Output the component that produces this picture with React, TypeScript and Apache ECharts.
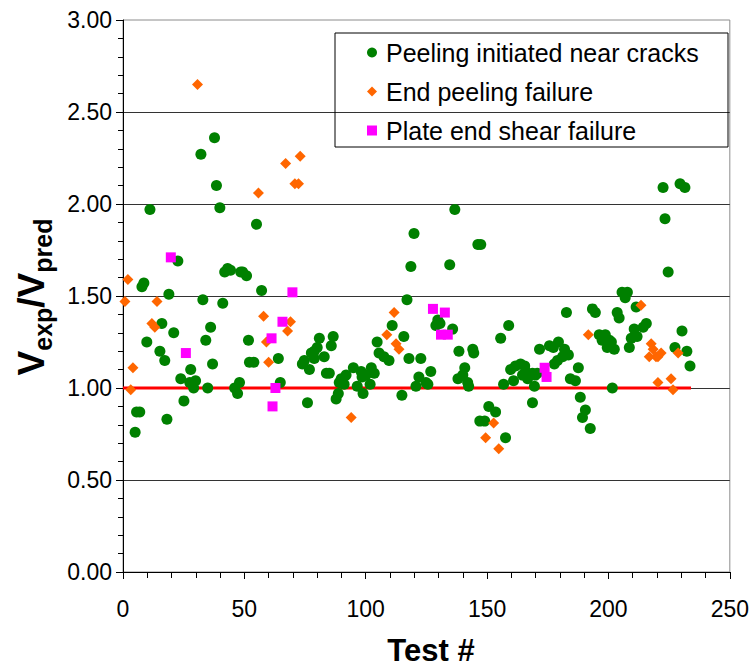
import React, { useEffect, useRef } from "react";
import * as echarts from "echarts";

// Test number vs. Vexp/Vpred, grouped by observed failure mode
const peelingNearCracks: [number, number][] = [
  [5.0, 0.76], [5.6, 0.87], [6.9, 0.87], [7.8, 1.55], [8.6, 1.57], [9.8, 1.25], [11.1, 1.97], [15.2, 1.2],
  [16.0, 1.35], [17.2, 1.15], [18.1, 0.83], [18.9, 1.51], [20.9, 1.3], [22.6, 1.69], [23.8, 1.05], [25.1, 0.93],
  [27.5, 1.03], [27.9, 1.1], [29.1, 1.0], [29.9, 1.04], [32.1, 2.27], [32.9, 1.48], [34.1, 1.26], [34.9, 1.0],
  [36.1, 1.33], [36.9, 1.13], [37.7, 2.36], [38.5, 2.1], [39.9, 1.98], [41.1, 1.46], [41.9, 1.63], [43.1, 1.65],
  [44.3, 1.64], [46.0, 1.0], [47.2, 0.97], [48.0, 1.03], [48.5, 1.63], [49.3, 1.63], [50.9, 1.61],
  [51.7, 1.26], [52.1, 1.14], [53.9, 1.14], [55.0, 1.89], [57.1, 1.53], [64.0, 1.16], [64.8, 1.03], [76.0, 0.92],
  [73.9, 1.13], [74.7, 1.15], [76.8, 1.1], [77.6, 1.19], [78.8, 1.2], [78.8, 1.16], [80.0, 1.22], [80.9, 1.27],
  [82.9, 1.17], [83.8, 1.08], [85.0, 1.08], [85.8, 1.23], [86.6, 1.28],
  [87.8, 0.94], [88.7, 0.97], [89.1, 1.03], [89.9, 1.05], [91.1, 1.02], [91.9, 1.07], [94.9, 1.11], [96.5, 1.01],
  [98.1, 1.09], [98.5, 1.06], [98.9, 0.97],
  [100.1, 1.07], [101.8, 1.02], [102.3, 1.11], [103.5, 1.08], [104.7, 1.25], [105.5, 1.19], [107.5, 1.17],
  [109.6, 1.15], [110.9, 1.34], [114.9, 0.96], [115.7, 1.28], [117.0, 1.48], [117.8, 1.16], [118.6, 1.66],
  [119.9, 1.84], [120.7, 1.01], [121.9, 1.06], [122.7, 1.16], [124.8, 1.03], [125.6, 1.02], [126.8, 1.09],
  [128.9, 1.34], [129.7, 1.37], [130.6, 1.35], [134.6, 1.67], [135.8, 1.32], [136.7, 1.97], [138.0, 1.05],
  [138.4, 1.2], [140.0, 1.07], [140.8, 1.11], [142.0, 1.03], [142.4, 1.01], [144.1, 1.21], [144.5, 1.19],
  [146.2, 1.78], [147.4, 1.78], [147.0, 0.82], [149.0, 0.82], [150.7, 0.9], [153.5, 0.87],
  [155.6, 1.27], [156.8, 1.02], [157.6, 0.73], [158.9, 1.34], [159.7, 1.1], [160.9, 1.04], [161.7, 1.12],
  [163.8, 1.13], [164.6, 1.07], [165.5, 1.12], [165.9, 1.09], [166.7, 1.05], [168.7, 0.92], [168.7, 1.08],
  [169.5, 1.01], [169.9, 1.07], [170.7, 1.08], [171.6, 1.21], [175.7, 1.23], [177.3, 1.22], [177.7, 1.13],
  [179.0, 1.15], [179.4, 1.25], [181.1, 1.17], [181.9, 1.21], [182.7, 1.41], [183.5, 1.18], [184.3, 1.05],
  [186.4, 1.04], [187.6, 1.11], [188.4, 0.95], [189.3, 0.84], [190.5, 0.88], [192.5, 0.78], [193.4, 1.43],
  [194.6, 1.41],
  [196.2, 1.29], [197.4, 1.26], [198.7, 1.29], [199.5, 1.22], [200.4, 1.26], [201.2, 1.25], [201.6, 1.0],
  [202.4, 1.21], [203.6, 1.41], [204.4, 1.38], [205.6, 1.52], [206.9, 1.49], [207.8, 1.52], [208.6, 1.22],
  [209.4, 1.27], [210.6, 1.32], [211.4, 1.44], [211.8, 1.28], [214.3, 1.33], [215.6, 1.35], [222.5, 2.09],
  [223.3, 1.92], [224.6, 1.63], [227.4, 1.22], [229.5, 2.11], [230.3, 1.31], [231.5, 2.09], [232.3, 1.2],
  [233.6, 1.12],
];

const endPeeling: [number, number][] = [
  [0.8, 1.47], [2.0, 1.59], [3.2, 0.99], [4.1, 1.11], [11.9, 1.35], [13.1, 1.33], [14.0, 1.47], [30.7, 2.65],
  [55.8, 2.06], [57.9, 1.39], [59.1, 1.25], [60.0, 1.14], [67.0, 2.22], [67.8, 1.31], [69.0, 1.36], [70.8, 2.11],
  [72.3, 2.11], [73.0, 2.26], [94.0, 0.84], [108.7, 1.29], [111.7, 1.41], [112.5, 1.24], [113.7, 1.21],
  [149.4, 0.73], [152.7, 0.81], [154.8, 0.67], [191.7, 1.29], [213.4, 1.45], [216.8, 1.17], [217.6, 1.24],
  [218.4, 1.21], [219.6, 1.17], [220.4, 1.17], [221.7, 1.19], [228.7, 1.19], [220.4, 1.03], [225.8, 1.05],
  [226.6, 0.99],
];

const plateEndShear: [number, number][] = [
  [19.7, 1.71], [25.9, 1.19], [61.2, 1.27], [61.6, 0.9], [62.8, 1.0], [65.7, 1.36], [69.8, 1.52],
  [127.7, 1.43], [131.0, 1.29], [132.6, 1.41], [133.8, 1.29], [173.7, 1.11], [174.5, 1.06],
];

// Vexp/Vpred = 1 reference line over the tested range
const unityLine: [number, number][] = [[0, 1], [234, 1]];

const seriesNames = ["Peeling initiated near cracks", "End peeling failure", "Plate end shear failure"];
const yTicks = { min: 0, max: 3, step: 0.5 };
const xTicks = { min: 0, max: 250, step: 50 };

const FONT = "Liberation Sans, Arial, sans-serif";

export default function App() {
  const ref = useRef<HTMLDivElement>(null);

  useEffect(() => {
    if (!ref.current) return;
    const chart = echarts.init(ref.current, null, { renderer: "svg" });
    chart.setOption({
      animation: false,
      backgroundColor: "#fff",
      grid: {
        left: 123,
        right: 20,
        top: 20,
        bottom: 96,
        show: true,
        borderColor: "#8c8c8c",
        borderWidth: 1,
      },
      legend: {
        data: seriesNames,
        orient: "vertical",
        left: 367,
        top: 40,
        padding: 0,
        itemGap: 14,
        itemWidth: 10,
        itemHeight: 10,
        textStyle: { fontFamily: FONT, fontSize: 25, color: "#000", lineHeight: 24, padding: [0, 0, 0, 4] },
      },
      xAxis: {
        type: "value",
        min: xTicks.min,
        max: xTicks.max,
        interval: xTicks.step,
        axisLine: { lineStyle: { color: "#000", width: 1 } },
        axisTick: { show: true, length: 7, lineStyle: { color: "#000" } },
        minorTick: { show: true, splitNumber: 5, length: 6, lineStyle: { color: "#000" } },
        axisLabel: { fontFamily: FONT, fontSize: 23, color: "#000", margin: 25 },
        splitLine: { show: false },
      },
      yAxis: {
        type: "value",
        min: yTicks.min,
        max: yTicks.max,
        interval: yTicks.step,
        axisLine: { show: true, lineStyle: { color: "#000", width: 1 } },
        axisTick: { show: true, length: 7, lineStyle: { color: "#000" } },
        minorTick: { show: true, splitNumber: 5, length: 5, lineStyle: { color: "#000" } },
        axisLabel: {
          fontFamily: FONT,
          fontSize: 23,
          color: "#000",
          margin: 11,
          formatter: (v: number) => v.toFixed(2),
        },
        splitLine: { show: true, showMinLine: false, showMaxLine: false, lineStyle: { color: "#333", width: 1 } },
      },
      graphic: [
        {
          type: "rect",
          shape: { x: 335, y: 33, width: 393, height: 114 },
          style: { fill: "none", stroke: "#000", lineWidth: 1 },
          z: 10,
        },
        {
          type: "text",
          x: 35,
          y: 297,
          rotation: Math.PI / 2,
          style: {
            text: "{v|V}{s|exp}{v|/V}{s|pred}",
            textAlign: "center",
            textVerticalAlign: "middle",
            fill: "#000",
            rich: {
              v: { fontFamily: FONT, fontSize: 37, fontWeight: "bold", lineHeight: 40, verticalAlign: "bottom", padding: [0, 0, 5, 0] },
              s: { fontFamily: FONT, fontSize: 25, fontWeight: "bold", lineHeight: 40, verticalAlign: "bottom" },
            },
          },
        },
        {
          type: "text",
          x: 431,
          y: 650,
          style: {
            text: "Test #",
            font: `bold 31px ${FONT}`,
            textAlign: "center",
            textVerticalAlign: "middle",
            fill: "#000",
          },
        },
      ],
      series: [
        {
          type: "line",
          data: unityLine,
          symbol: "none",
          lineStyle: { color: "#ff0000", width: 3 },
          silent: true,
          z: 1,
        },
        {
          name: seriesNames[0],
          type: "scatter",
          data: peelingNearCracks,
          symbol: "circle",
          symbolSize: 11,
          itemStyle: { color: "#008000", opacity: 1 },
          z: 2,
        },
        {
          name: seriesNames[1],
          type: "scatter",
          data: endPeeling,
          symbol: "diamond",
          symbolSize: 11,
          itemStyle: { color: "#ff6600", opacity: 1 },
          z: 3,
        },
        {
          name: seriesNames[2],
          type: "scatter",
          data: plateEndShear,
          symbol: "rect",
          symbolSize: 10,
          itemStyle: { color: "#ff00ff", opacity: 1 },
          z: 4,
        },
      ],
    });
    return () => chart.dispose();
  }, []);

  return (
    <div
      ref={ref}
      style={{ position: "fixed", left: 0, top: 0, width: 752, height: 668, background: "#fff" }}
    />
  );
}
